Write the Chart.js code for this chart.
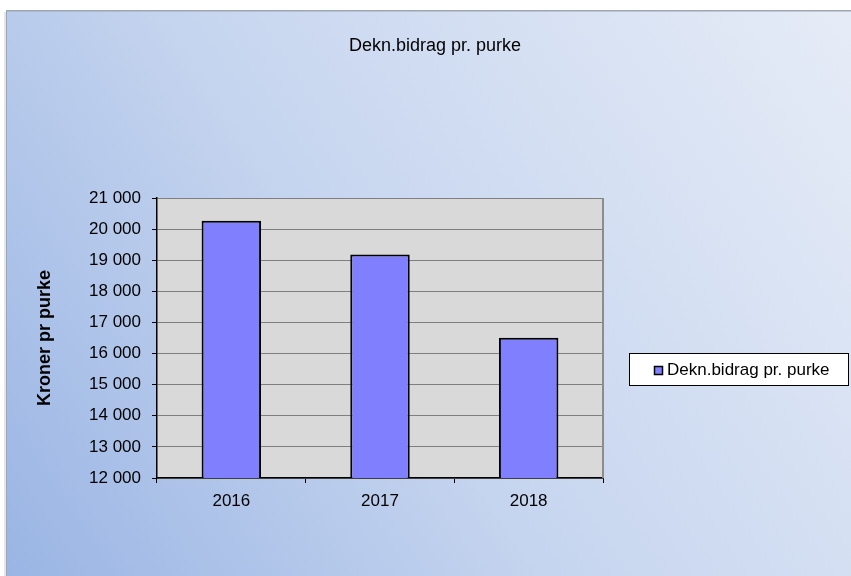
<!DOCTYPE html>
<html>
<head>
<meta charset="utf-8">
<script src="https://cdn.jsdelivr.net/npm/chart.js@4"></script>
<style>
    body { margin: 0; background: #ffffff; }
    #wrap { width: 851px; height: 576px; }
</style>
</head>
<body>
<div id="wrap"><canvas id="chart" width="851" height="576"></canvas></div>
<script>
// data
var years = ["2016", "2017", "2018"];
var bidrag = [20270, 19180, 16510];
var seriesName = "Dekn.bidrag pr. purke";
var chartTitle = "Dekn.bidrag pr. purke";
var yTitle = "Kroner pr purke";
var yMin = 12000;
var yMax = 21000;
var yStep = 1000;

var font = "'Liberation Sans', Arial, sans-serif";
var barColor = "#8080ff";

function spaced(v) {
    return String(v).replace(/\B(?=(\d{3})+(?!\d))/g, " ");
}

// background frame, plot fill, border, title and legend box
var excelLook = {
    id: "excelLook",
    beforeDraw: function (chart) {
        var ctx = chart.ctx;
        var w = chart.width, h = chart.height;
        ctx.save();
        ctx.fillStyle = "#ffffff";
        ctx.fillRect(0, 0, w, h);
        // soft shadow on the left
        ctx.fillStyle = "#e4e6ea";
        ctx.fillRect(4, 12, 3, h - 12);
        var g = ctx.createLinearGradient(7, h, w, 11);
        g.addColorStop(0, "#9ab5e4");
        g.addColorStop(0.45, "#c6d5ef");
        g.addColorStop(1, "#e6ecf7");
        ctx.fillStyle = g;
        ctx.fillRect(7, 11, w - 7, h - 11);
        ctx.fillStyle = "#9ea6b2";
        ctx.fillRect(7, 10, w - 7, 1.5);
        ctx.fillRect(6, 10, 1, h - 10);
        var a = chart.chartArea;
        ctx.fillStyle = "#d9d9d9";
        ctx.fillRect(a.left, a.top, a.right - a.left, a.bottom - a.top);
        ctx.restore();
    },
    afterDraw: function (chart) {
        var ctx = chart.ctx;
        var a = chart.chartArea;
        ctx.save();
        ctx.strokeStyle = "#8c8c8c";
        ctx.lineWidth = 2;
        ctx.beginPath();
        ctx.moveTo(a.right, a.top);
        ctx.lineTo(a.right, a.bottom);
        ctx.stroke();

        ctx.fillStyle = "#000000";
        ctx.font = "18px " + font;
        ctx.textAlign = "center";
        ctx.textBaseline = "middle";
        ctx.fillText(chartTitle, 435, 46);

        // legend
        ctx.fillStyle = "#ffffff";
        ctx.fillRect(629.5, 353.5, 219, 32);
        ctx.strokeStyle = "#000000";
        ctx.lineWidth = 1;
        ctx.strokeRect(629.5, 353.5, 219, 32);
        ctx.fillStyle = barColor;
        ctx.fillRect(654.5, 366.5, 8, 8);
        ctx.lineWidth = 1.5;
        ctx.strokeRect(654.5, 366.5, 8, 8);
        ctx.fillStyle = "#000000";
        ctx.font = "17px " + font;
        ctx.textAlign = "left";
        ctx.fillText(seriesName, 667, 370);
        ctx.restore();
    },
};

Chart.defaults.font.family = font;
Chart.defaults.color = "#000000";

var ctx = document.getElementById("chart").getContext("2d");
var myChart = new Chart(ctx, {
    type: "bar",
    data: {
        labels: years,
        datasets: [
            {
                label: seriesName,
                data: bidrag,
                backgroundColor: barColor,
                borderColor: "#000000",
                borderWidth: 2,
                barPercentage: 0.4,
                categoryPercentage: 1,
            },
        ],
    },
    options: {
        responsive: false,
        animation: false,
        layout: {
            padding: { left: 7, top: 198, right: 248, bottom: 0 },
        },
        scales: {
            x: {
                offset: true,
                grid: {
                    display: true,
                    drawOnChartArea: false,
                    offset: true,
                    tickColor: "#000000",
                    tickLength: 5,
                },
                border: { color: "#000000", width: 1.5 },
                ticks: { font: { size: 17 }, padding: 8 },
                afterFit: function (scale) {
                    scale.height = 98;
                },
            },
            y: {
                min: yMin,
                max: yMax,
                ticks: {
                    stepSize: yStep,
                    font: { size: 17 },
                    padding: 11,
                    callback: function (v) {
                        return spaced(v);
                    },
                },
                grid: {
                    color: "#7f7f7f",
                    tickColor: "#000000",
                    tickLength: 5,
                },
                border: { color: "#000000", width: 1.5 },
                title: {
                    display: true,
                    text: yTitle,
                    font: { size: 18, weight: "bold" },
                    padding: { top: 27, bottom: 0 },
                },
                afterFit: function (scale) {
                    scale.width = 150;
                },
            },
        },
        plugins: {
            legend: { display: false },
            title: { display: false },
            tooltip: { enabled: false },
        },
    },
    plugins: [excelLook],
});
</script>
</body>
</html>
